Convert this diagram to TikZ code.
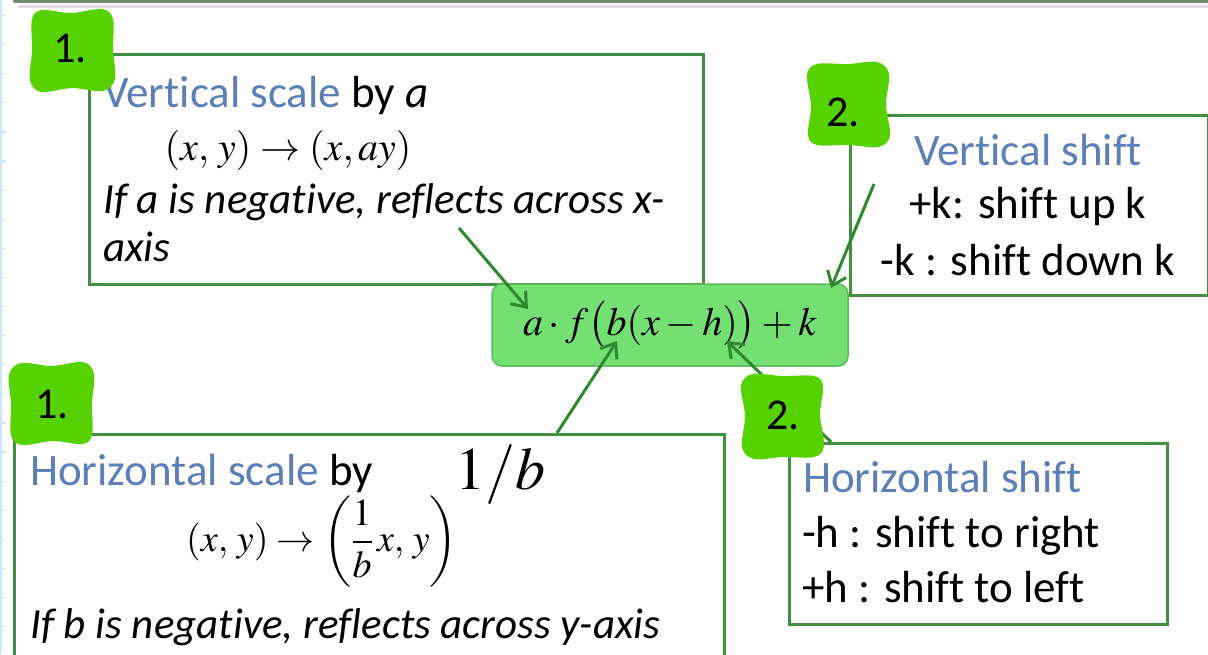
\documentclass[tikz,border=0pt]{standalone}
\usepackage{mathptmx}
\usepackage[no-math]{fontspec}
\setmainfont{Carlito}[Ligatures={NoCommon}]
\usetikzlibrary{arrows.meta}
\definecolor{titleblue}{HTML}{5B7FB6}
\definecolor{bordergreen}{HTML}{3F9140}
\definecolor{arrowgreen}{HTML}{2F8A2F}
\definecolor{eqfill}{HTML}{74E074}
\definecolor{eqborder}{HTML}{5DBA5D}
\definecolor{blobgreen}{HTML}{56D200}
\definecolor{gridblue}{HTML}{CDE6FA}
\definecolor{topline}{HTML}{6E8F6E}
\newcommand\myblob[3]{%
  \begin{scope}[shift={(#1,#2)}, rotate=#3]
    \fill[black!4] (-36,-36) rectangle (39,35);
    \fill[blobgreen] plot[smooth cycle, tension=0.55] coordinates {(-40,-31) (-30,-40) (-1,-37) (30,-41) (41,-31) (41,0) (43,29) (31,41) (0,38) (-31,42) (-42,30) (-40,1)};
  \end{scope}}
\begin{document}
\begin{tikzpicture}[x=1pt,y=-1pt,
  box/.style={draw=bordergreen, line width=2.5pt, fill=white, inner sep=0pt},
  title/.style={text=titleblue, font=\fontsize{45}{54}\selectfont, inner sep=0pt},
  body/.style={font=\fontsize{45}{54}\selectfont, inner sep=0pt},
  ibody/.style={font=\fontsize{43}{52}\selectfont\itshape, inner sep=0pt, anchor=base west},
  mth/.style={font=\fontsize{40}{48}\selectfont, inner sep=0pt},
  arr/.style={draw=arrowgreen, line width=3pt, -{Straight Barb[length=13pt,width=20pt,line width=3pt]}},
  hand/.style={font=\fontsize{44}{50}\selectfont, inner sep=0pt}]
\path[use as bounding box] (0,0) rectangle (1208,654);
\clip (0,0) rectangle (1208,654);
\fill[white] (0,0) rectangle (1208,654);
% left ruler
\draw[gridblue, line width=1.5pt] (1,0) -- (1,654);
\foreach \k in {0,...,22} \draw[gridblue, line width=1.2pt] (0,{15.5+29.1*\k}) -- (6,{15.5+29.1*\k});
% top line
\draw[black!12, line width=3pt] (18,6) -- (1210,6);
\draw[topline, line width=4pt, line cap=round] (15,1) -- (1212,1);
% boxes
\node[box, anchor=north west, minimum width=614pt, minimum height=230pt] (vscale) at (88,53) {};
\node[box, anchor=north west, minimum width=358pt, minimum height=180pt] (vshift) at (849,114) {};
\node[box, anchor=north west, minimum width=710pt, minimum height=260pt] (hscale) at (13,433) {};
\node[box, anchor=north west, minimum width=378pt, minimum height=181pt] (hshift) at (788,442) {};
% central formula
\node[draw=eqborder, fill=eqfill, line width=1.5pt, rounded corners=10pt, minimum width=356pt, minimum height=82pt, inner sep=0pt, font=\fontsize{40}{48}\selectfont] (eq) at (670,325) {$a\cdot f\bigl(b(x-h)\bigr)+k$};
% texts box 1
\node[title, anchor=base west] (t1) at (103,107) {Vertical scale \textcolor{black}{by \textit{a}}};
\node[mth, anchor=base] (f1) at (288,160) {$(x,\,y)\rightarrow(x,ay)$};
\node[ibody] (b1a) at (103,213) {If a is negative, reflects across x-};
\node[ibody] (b1b) at (103,261) {axis};
% texts box 2
\node[title, anchor=base] (t2) at (1028,165) {Vertical shift};
\node[body, anchor=base] (b2a) at (1028,218) {+k: shift up k};
\node[body, anchor=base] (b2b) at (1028,275) {-k : shift down k};
% texts box 3
\node[title, anchor=base west] (t3) at (30,485) {Horizontal scale \textcolor{black}{by}};
\node[inner sep=0pt, anchor=base west, font=\fontsize{60}{66}\selectfont] (oneb) at (455,489) {$1/b$};
\node[mth, font=\fontsize{38}{46}\selectfont] (f3) at (322,542) {$(x,\,y)\rightarrow\left(\displaystyle\frac{1}{b}\,x,\,y\right)$};
\node[ibody] (b3) at (30,638) {If b is negative, reflects across y-axis};
% texts box 4
\node[title, anchor=base west] (t4) at (803,492) {Horizontal shift};
\node[body, anchor=base west] (b4a) at (802,547) {-h : shift to right};
\node[body, anchor=base west] (b4b) at (802,602) {+h : shift to left};
% arrows
\coordinate (a1s) at (459,228); \coordinate (a1e) at (528,309);
\coordinate (a2s) at (874,184); \coordinate (a2e) at (831,288);
\coordinate (a3s) at (557,433); \coordinate (a3e) at (617,341);
\coordinate (a4s) at (831,442); \coordinate (a4e) at (727,341);
\draw[arr] (a1s) -- (a1e);
\draw[arr] (a2s) -- (a2e);
\draw[arr] (a3s) -- (a3e);
\draw[arr] (a4s) -- (a4e);
% blobs
\myblob{72}{50}{0}
\myblob{848}{105}{90}
\myblob{52}{404}{180}
\myblob{783}{416}{270}
\node[hand] (n1) at (70,49) {1.};
\node[hand] (n2) at (843,112) {2.};
\node[hand] (n3) at (52,405) {1.};
\node[hand] (n4) at (783,415) {2.};
\end{tikzpicture}
\end{document}
